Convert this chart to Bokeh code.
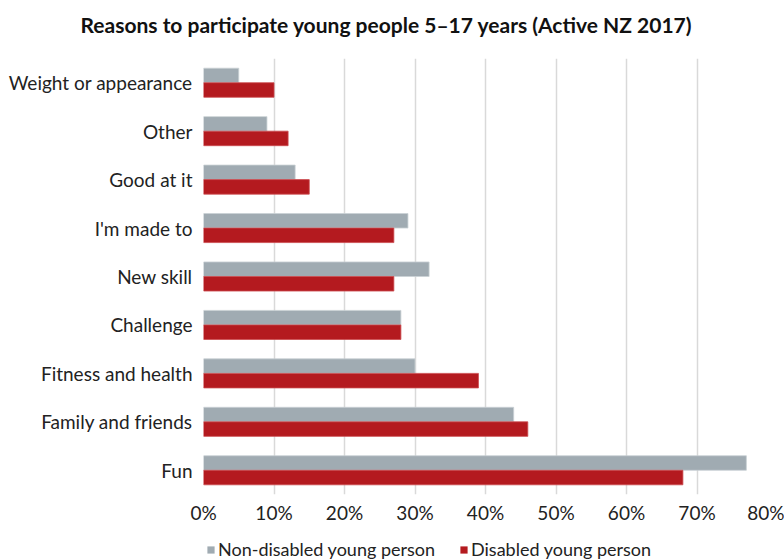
from bokeh.plotting import figure
from bokeh.layouts import column
from bokeh.models import (ColumnDataSource, FactorRange, Range1d, FixedTicker,
                          NumeralTickFormatter, Legend, LegendItem)
from bokeh.transform import dodge
from bokeh.embed import file_html
from bokeh.resources import INLINE

categories = ["Weight or appearance", "Other", "Good at it", "I'm made to",
              "New skill", "Challenge", "Fitness and health",
              "Family and friends", "Fun"]
non_disabled = [0.05, 0.09, 0.13, 0.29, 0.32, 0.28, 0.30, 0.44, 0.77]
disabled = [0.10, 0.12, 0.15, 0.27, 0.27, 0.28, 0.39, 0.46, 0.68]
x_ticks = [0, 0.1, 0.2, 0.3, 0.4, 0.5, 0.6, 0.7, 0.8]
title_text = "Reasons to participate young people 5\u201317 years (Active NZ 2017)"
series_names = ["Non-disabled young person", "Disabled young person"]

GREY = "#A0ABB2"
RED = "#B41A1F"
FONT = "Lato"
FS = "19px"

# ---- title strip ----
pt = figure(width=784, height=44, output_backend="svg", toolbar_location=None,
            x_range=Range1d(0, 1), y_range=Range1d(0, 1),
            x_axis_type=None, y_axis_type=None, title=title_text,
            min_border_left=0, min_border_right=0, min_border_top=41, min_border_bottom=0)
pt.outline_line_color = None
pt.xgrid.grid_line_color = None
pt.ygrid.grid_line_color = None
pt.title.text_font = FONT
pt.title.text_font_size = "21px"
pt.title.text_font_style = "bold"
pt.title.text_color = "#111111"
pt.title.align = "left"
pt.title.offset = -123
pt.title.standoff = 10

# ---- main chart ----
src = ColumnDataSource(dict(cat=categories, nd=non_disabled, d=disabled))

p = figure(width=784, height=486, output_backend="svg", toolbar_location=None,
           y_range=FactorRange(factors=list(reversed(categories)), range_padding=0),
           x_range=Range1d(0, 0.8),
           min_border_left=203, min_border_right=17,
           min_border_top=14, min_border_bottom=36)
p.outline_line_color = None
p.background_fill_color = "white"

r1 = p.hbar(y=dodge("cat", 0.15, range=p.y_range), right="nd", left=0, height=0.3,
            source=src, fill_color=GREY, line_color="#c9d0d4", line_width=0.8)
r2 = p.hbar(y=dodge("cat", -0.15, range=p.y_range), right="d", left=0, height=0.3,
            source=src, fill_color=RED, line_color="#cc4a4e", line_width=0.8)

p.xaxis.ticker = FixedTicker(ticks=x_ticks)
p.xaxis.formatter = NumeralTickFormatter(format="0%")
p.xaxis.axis_line_color = None
p.xaxis.major_tick_line_color = None
p.xaxis.minor_tick_line_color = None
p.xaxis.major_label_standoff = 0
p.xaxis.major_label_text_font = FONT
p.xaxis.major_label_text_font_size = FS
p.xaxis.major_label_text_color = "#222222"

p.yaxis.axis_line_color = None
p.yaxis.major_tick_line_color = None
p.yaxis.minor_tick_line_color = None
p.yaxis.major_label_standoff = 5
p.yaxis.major_label_text_font = FONT
p.yaxis.major_label_text_font_size = FS
p.yaxis.major_label_text_color = "#222222"

p.xgrid.grid_line_color = "#d9d9d9"
p.xgrid.grid_line_width = 1.5
p.ygrid.grid_line_color = None

# ---- legend strip ----
pl = figure(width=784, height=30, output_backend="svg", toolbar_location=None,
            x_range=Range1d(0, 1), y_range=Range1d(0, 1),
            x_axis_type=None, y_axis_type=None,
            min_border_left=0, min_border_right=0, min_border_top=0, min_border_bottom=0)
pl.outline_line_color = None
pl.xgrid.grid_line_color = None
pl.ygrid.grid_line_color = None
# zero-width stand-ins that only carry the legend swatch styles
d1 = pl.hbar(y=[-1], left=[0], right=[0], height=0.3, fill_color=GREY, line_color=None)
d2 = pl.hbar(y=[-1], left=[0], right=[0], height=0.3, fill_color=RED, line_color=None)

legend = Legend(items=[LegendItem(label=series_names[0], renderers=[d1]),
                       LegendItem(label=series_names[1], renderers=[d2])],
                orientation="horizontal", location=(3, 0),
                label_text_font=FONT, label_text_font_size="18px",
                label_text_color="#222222", glyph_width=9, glyph_height=9,
                label_standoff=3, spacing=24, padding=0, margin=0,
                border_line_color=None, background_fill_alpha=0)
pl.add_layout(legend, "center")

layout = column(pt, p, pl, spacing=0)
open("out.html", "w").write(file_html(layout, INLINE))
